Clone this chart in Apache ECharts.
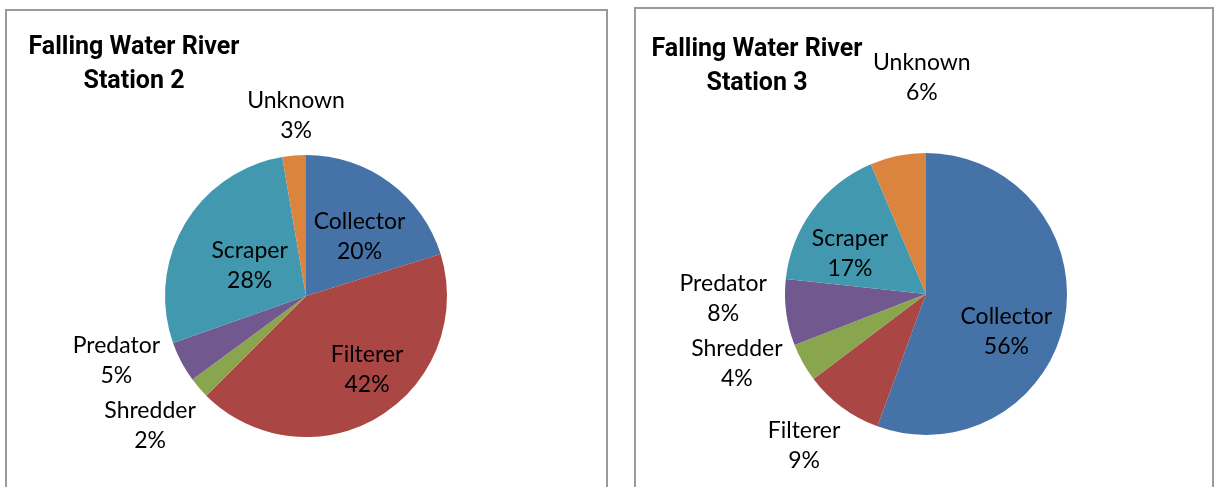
<!DOCTYPE html>
<html><head><meta charset="utf-8">
<script src="https://cdn.jsdelivr.net/npm/echarts@6/dist/echarts.min.js"></script>
<style>html,body{margin:0;padding:0;background:#fff}#c{width:1215px;height:487px}</style>
</head><body><div id="c"></div>
<script>
// ---- data ----
const categories = ['Collector', 'Filterer', 'Shredder', 'Predator', 'Scraper', 'Unknown'];
const station2Values = [20.2, 42.3, 2.4, 4.7, 27.7, 2.7];
const station3Values = [55.6, 9.1, 4.4, 7.6, 16.9, 6.4];
const station2Title = 'Falling Water River\nStation 2';
const station3Title = 'Falling Water River\nStation 3';

// ---- style ----
const colors = ['#4572A7', '#AA4643', '#89A54E', '#71588F', '#4198AF', '#DB843D'];
const FONT = 'Lato, "DejaVu Sans", sans-serif';
const TITLE_FONT = 'Roboto, "Liberation Sans", sans-serif';
const station2Inside = [true, true, false, false, true, false];
const station2Nudge = [[10, 0], [23, 11], [-49, 38], [-65, -1], [7, 7], [2, -40]];
const station3Inside = [true, false, false, false, true, false];
const station3Nudge = [[8, 25], [-38, 38], [-66, 1], [-63, -14], [-17, 3], [24, -78]];

function makeSeries(values, inside, nudge, center) {
  return {
    type: 'pie',
    center: center,
    radius: 141,
    startAngle: 90,
    clockwise: true,
    avoidLabelOverlap: false,
    percentPrecision: 0,
    emphasis: { disabled: true },
    label: {
      formatter: '{b}\n{d}%',
      fontFamily: FONT,
      fontSize: 23,
      lineHeight: 30,
      color: '#000'
    },
    labelLine: { show: true, length: 0, length2: 0, lineStyle: { width: 0, opacity: 0 } },
    labelLayout: function (p) {
      const n = nudge[p.dataIndex];
      if (!inside[p.dataIndex] && p.labelLinePoints) {
        const pt = p.labelLinePoints[0];
        return { x: pt[0] + n[0], y: pt[1] + n[1], align: 'center', verticalAlign: 'middle' };
      }
      return { dx: n[0], dy: n[1] };
    },
    data: categories.map(function (c, i) {
      return {
        name: c,
        value: values[i],
        itemStyle: { color: colors[i] },
        label: { position: inside[i] ? 'inside' : 'outside' },
        labelLine: { show: !inside[i] }
      };
    })
  };
}

const chart = echarts.init(document.getElementById('c'));
chart.setOption({
  backgroundColor: '#ffffff',
  animation: false,
  graphic: [
    { type: 'rect', z: -10, shape: { x: 6, y: 10, width: 601, height: 500 }, style: { fill: '#fff', stroke: '#9a9a9a', lineWidth: 2 } },
    { type: 'rect', z: -10, shape: { x: 635, y: 8, width: 578, height: 500 }, style: { fill: '#fff', stroke: '#9a9a9a', lineWidth: 2 } },
    { type: 'text', x: 134, y: 31, style: { text: station2Title, align: 'center', verticalAlign: 'top', fontFamily: TITLE_FONT, fontWeight: 'bold', fontSize: 25, lineHeight: 34, fill: '#000' } },
    { type: 'text', x: 757, y: 33, style: { text: station3Title, align: 'center', verticalAlign: 'top', fontFamily: TITLE_FONT, fontWeight: 'bold', fontSize: 25, lineHeight: 34, fill: '#000' } }
  ],
  series: [
    makeSeries(station2Values, station2Inside, station2Nudge, [306, 296]),
    makeSeries(station3Values, station3Inside, station3Nudge, [926, 294])
  ]
});
</script>
</body></html>
